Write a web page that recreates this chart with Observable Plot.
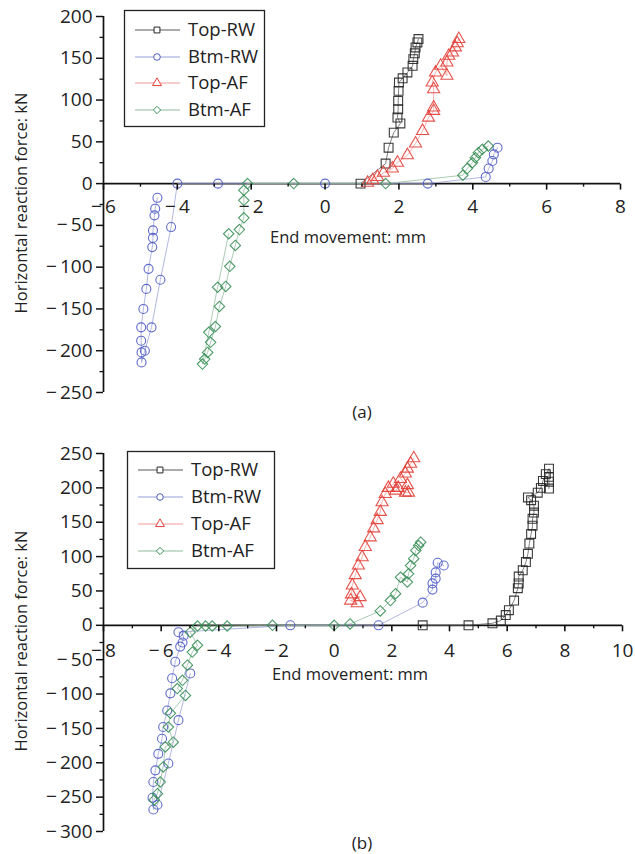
<!DOCTYPE html>
<html>
<head>
<meta charset="utf-8">
<script src="https://cdn.jsdelivr.net/npm/d3@7"></script>
<script src="https://cdn.jsdelivr.net/npm/@observablehq/plot@0.6"></script>
<style>
  html, body { margin: 0; padding: 0; background: #fff; }
  #root { position: relative; width: 635px; height: 854px; overflow: hidden; font-family: "Open Sans", sans-serif; color: #222; }
  .ylab { position: absolute; white-space: nowrap; transform: translate(-50%, -50%) rotate(-90deg); font-size: 16.5px; }
  .xlab { position: absolute; white-space: nowrap; font-size: 16.5px; transform: translateY(-50%); }
  .cap { position: absolute; white-space: nowrap; font-size: 17px; transform: translate(-50%, -50%); }
</style>
</head>
<body>
<div id="root"></div>
<script>
// ---------------- data ----------------
const seriesNames = ["Top-RW", "Btm-RW", "Top-AF", "Btm-AF"];

// Panel (a): [end movement mm, horizontal reaction force kN]
const aTopRW = [[0.96,0],[1.64,24],[1.72,43],[1.86,61],[2.04,72],[1.96,79],[1.98,89],[1.98,99],[1.99,111],[2.0,121],[2.1,126],[2.23,133],[2.37,141],[2.39,149],[2.43,156],[2.45,163],[2.5,169],[2.53,173]];
const aBtmRW = [[4.67,43],[4.57,35],[4.53,27],[4.43,18],[4.35,8],[2.78,0],[0,0],[-2.9,0],[-4.0,0],[-4.17,-52],[-4.46,-115],[-4.7,-172],[-4.88,-200],[-4.97,-214],[-4.97,-202],[-4.98,-188],[-4.98,-172],[-4.92,-150],[-4.84,-126],[-4.78,-102],[-4.68,-76],[-4.66,-65],[-4.66,-56],[-4.62,-38],[-4.6,-30],[-4.54,-17]];
const aTopAF = [[1.15,1],[1.29,4],[1.42,8],[1.58,13],[1.82,18],[1.96,25],[2.23,34],[2.45,48],[2.64,63],[2.8,79],[2.94,87],[2.94,91],[2.94,113],[2.9,121],[2.99,133],[3.13,141],[3.3,129],[3.3,145],[3.35,153],[3.45,157],[3.53,163],[3.58,168],[3.62,173]];
const aBtmAF = [[4.42,45],[4.26,41],[4.15,37],[4.07,31],[3.99,25],[3.85,18],[3.73,10],[1.64,0],[-0.85,0],[-2.1,0],[-2.2,-8],[-2.2,-20],[-2.2,-41],[-2.32,-55],[-2.43,-74],[-2.58,-99],[-2.69,-123],[-2.86,-147],[-2.97,-171],[-3.1,-190],[-3.18,-202],[-3.26,-210],[-3.32,-216],[-3.15,-178],[-2.91,-124],[-2.61,-60]];

// Panel (b)
const bTopRW = [[3.07,0],[4.66,0],[5.49,3],[5.78,7],[5.95,15],[6.06,22],[6.24,36],[6.37,54],[6.4,61],[6.4,71],[6.54,80],[6.65,92],[6.72,104],[6.77,119],[6.83,133],[6.88,145],[6.88,155],[6.93,164],[6.93,174],[6.83,182],[6.72,186],[7.06,193],[7.17,200],[7.24,210],[7.34,220],[7.45,228],[7.45,216],[7.45,209],[7.45,199]];
const bBtmRW = [[3.8,87],[3.59,91],[3.52,77],[3.52,68],[3.41,61],[3.41,52],[3.07,33],[1.54,0],[-1.52,0],[-5.4,-10],[-5.22,-15],[-5.26,-25],[-5.34,-31],[-5.51,-53],[-5.62,-77],[-5.68,-99],[-5.79,-124],[-5.93,-148],[-5.97,-165],[-6.1,-187],[-6.2,-211],[-6.27,-228],[-6.3,-251],[-6.27,-268],[-6.13,-261],[-5.75,-201],[-5.4,-138],[-4.99,-70]];
const bTopAF = [[0.8,32],[0.57,36],[0.9,41],[0.6,45],[0.63,58],[0.73,73],[0.84,87],[0.97,99],[1.08,114],[1.25,128],[1.37,141],[1.49,153],[1.6,165],[1.66,179],[1.77,191],[1.88,200],[2.05,206],[2.22,200],[2.13,196],[2.47,193],[2.58,193],[2.54,204],[2.3,213],[2.47,221],[2.54,228],[2.65,235],[2.76,243]];
const bBtmAF = [[3.0,121],[2.93,116],[2.83,109],[2.76,97],[2.65,87],[2.58,75],[2.54,63],[2.3,70],[2.13,46],[1.95,36],[1.6,21],[0.55,2],[0,0],[-2.14,0],[-3.71,-1],[-4.23,-1],[-4.46,-1],[-4.74,-1],[-4.99,-10],[-4.74,-29],[-4.92,-39],[-5.09,-58],[-5.26,-80],[-5.44,-92],[-5.16,-102],[-5.68,-128],[-5.75,-148],[-5.58,-170],[-5.86,-177],[-5.93,-206],[-6.03,-228],[-6.13,-245],[-6.24,-254]];

// axes
const aXDomain = [-6, 8], aYDomain = [-250, 200];
const bXDomain = [-8, 10], bYDomain = [-300, 250];
const aXTicks = [-6, -4, -2, 0, 2, 4, 6, 8];
const aXMinor = [-5, -3, -1, 1, 3, 5, 7];
const bXTicks = [-8, -6, -4, -2, 0, 2, 4, 6, 8, 10];
const bXMinor = [-7, -5, -3, -1, 1, 3, 5, 7, 9];
const aYTicks = [-250, -200, -150, -100, -50, 0, 50, 100, 150, 200];
const aYMinor = [-225, -175, -125, -75, -25, 25, 75, 125, 175];
const bYTicks = [-300, -250, -200, -150, -100, -50, 0, 50, 100, 150, 200, 250];
const bYMinor = [-275, -225, -175, -125, -75, -25, 25, 75, 125, 175, 225];

const xTitle = "End movement: mm";
const yTitle = "Horizontal reaction force: kN";

// ---------------- styles ----------------
const styleOf = {
  "Top-RW": {stroke: "#262626", line: "#5a5a5a", symbol: "square", r: 5.0},
  "Btm-RW": {stroke: "#4f5cc4", line: "#9aa0d8", symbol: "circle", r: 4.5},
  "Top-AF": {stroke: "#e2403a", line: "#f19a95", symbol: "triangle", r: 4.5},
  "Btm-AF": {stroke: "#3a8f58", line: "#8fbb9e", symbol: "diamond2", r: 4.7}
};

const fmt = d => d < 0 ? "\u2212\u2009" + (-d) : String(d);
const tickDown = {draw(ctx, size) { const l = Math.sqrt(size / Math.PI); ctx.moveTo(0, 0); ctx.lineTo(0, l); }};

function panel(o) {
  const marks = [
    Plot.ruleY([0], {stroke: "#111", strokeWidth: 1.7}),
    Plot.ruleX([o.xDomain[0]], {stroke: "#111", strokeWidth: 1.7})
  ];
  o.series.forEach((pts, i) => {
    const s = styleOf[seriesNames[i]];
    marks.push(Plot.line(pts, {x: d => d[0], y: d => d[1], stroke: s.line, strokeWidth: 0.9, strokeOpacity: 0.85}));
  });
  o.series.forEach((pts, i) => {
    const s = styleOf[seriesNames[i]];
    marks.push(Plot.dot(pts, {x: d => d[0], y: d => d[1], symbol: s.symbol, r: s.r, stroke: s.stroke, strokeWidth: 1.1, fill: "none", strokeOpacity: 0.9}));
  });
  marks.push(
    Plot.dot(o.xTicks, {x: d => d, y: 0, symbol: tickDown, r: 6, stroke: "#111", strokeWidth: 1.6, fill: "none"}),
    Plot.dot(o.xMinor, {x: d => d, y: 0, symbol: tickDown, r: 3, stroke: "#111", strokeWidth: 1.4, fill: "none"}),
    Plot.text(o.xTicks, {x: d => d, y: 0, dy: o.dyLab, text: d => fmt(d), fontSize: 19, fill: "#222"}),
    Plot.axisY(o.yTicks, {tickSize: 7, tickPadding: 4, label: null, fontSize: 19, tickFormat: fmt, strokeWidth: 1.5, stroke: "#111", fill: "#222"}),
    Plot.axisY(o.yMinor, {tickSize: 3.5, label: null, tickFormat: () => "", strokeWidth: 1.3, stroke: "#111"})
  );
  return Plot.plot({
    width: 635, height: o.height,
    marginLeft: 103, marginRight: o.mr, marginTop: o.mt, marginBottom: o.mb,
    x: {domain: o.xDomain, axis: null},
    y: {domain: o.yDomain},
    style: {fontFamily: "'Open Sans', sans-serif", fontSize: "19px", color: "#222", background: "transparent", overflow: "visible"},
    marks
  });
}

function legend(x, y, w, h, rowY) {
  const svg = d3.create("svg").attr("width", w + 2).attr("height", h + 2)
    .style("position", "absolute").style("left", (x - 1) + "px").style("top", (y - 1) + "px").style("overflow", "visible");
  svg.append("rect").attr("x", 1.5).attr("y", 1.5).attr("width", w - 1).attr("height", h - 1)
    .attr("fill", "#fff").attr("stroke", "#222").attr("stroke-width", 1.3);
  const symMap = {square: d3.symbolSquare, circle: d3.symbolCircle, triangle: d3.symbolTriangle, diamond2: d3.symbolDiamond2};
  seriesNames.forEach((n, i) => {
    const s = styleOf[n];
    const cy = rowY[i] - y + 1;
    svg.append("line").attr("x1", 12).attr("x2", 57).attr("y1", cy).attr("y2", cy)
      .attr("stroke", s.line).attr("stroke-width", 1.2);
    svg.append("path").attr("d", d3.symbol(symMap[s.symbol], Math.PI * 3.3 * 3.3)())
      .attr("transform", `translate(34,${cy})`).attr("fill", "#fff").attr("stroke", s.stroke).attr("stroke-width", 1);
    svg.append("text").attr("x", 65).attr("y", cy).attr("dy", "0.35em").attr("font-size", 18.5)
      .attr("font-family", "'Open Sans', sans-serif").attr("fill", "#222").text(n);
  });
  return svg.node();
}

const root = document.getElementById("root");

const pa = panel({xDomain: aXDomain, yDomain: aYDomain, series: [aTopRW, aBtmRW, aTopAF, aBtmAF],
  xTicks: aXTicks, xMinor: aXMinor, yTicks: aYTicks, yMinor: aYMinor,
  height: 420, mt: 16, mb: 28, mr: 15, dyLab: 23});
pa.style.position = "absolute"; pa.style.left = "0px"; pa.style.top = "0px";
root.appendChild(pa);

const pb = panel({xDomain: bXDomain, yDomain: bYDomain, series: [bTopRW, bBtmRW, bTopAF, bBtmAF],
  xTicks: bXTicks, xMinor: bXMinor, yTicks: bYTicks, yMinor: bYMinor,
  height: 424, mt: 23, mb: 23, mr: 13, dyLab: 26});
pb.style.position = "absolute"; pb.style.left = "0px"; pb.style.top = "430px";
root.appendChild(pb);

root.appendChild(legend(124, 10, 141, 117, [30, 57, 83, 110]));
root.appendChild(legend(127, 451, 148, 118, [470, 497, 524, 551]));

function addDiv(cls, text, left, top) {
  const d = document.createElement("div");
  d.className = cls; d.textContent = text;
  d.style.left = left + "px"; d.style.top = top + "px";
  root.appendChild(d);
}
addDiv("xlab", xTitle, 270, 236);
addDiv("xlab", xTitle, 272, 673);
addDiv("ylab", yTitle, 20, 203);
addDiv("ylab", yTitle, 20, 641);
addDiv("cap", "(a)", 362, 411);
addDiv("cap", "(b)", 362, 842);
</script>
</body>
</html>
